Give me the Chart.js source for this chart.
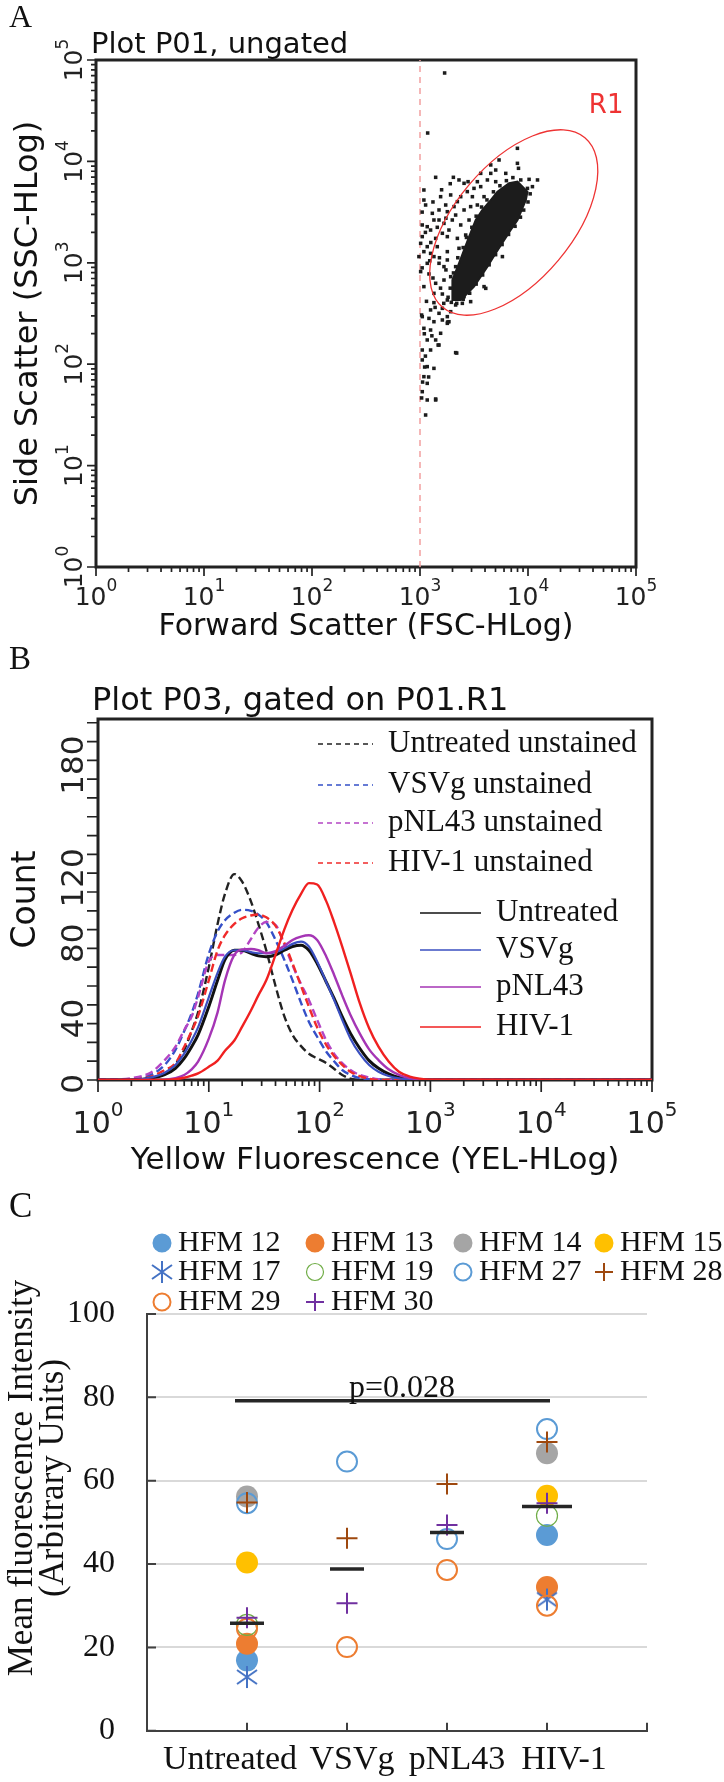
<!DOCTYPE html>
<html lang="en">
<head>
<meta charset="utf-8">
<title>Flow cytometry panels A-C</title>
<script src="https://cdn.jsdelivr.net/npm/chart.js@4.4.1/dist/chart.umd.min.js"></script>
<style>
  html, body { margin: 0; padding: 0; background: #fff; }
  #page { position: relative; width: 724px; height: 1782px; overflow: hidden; background: #fff; }
  #page canvas { position: absolute; left: 0; }
  .txt { position: absolute; white-space: nowrap; line-height: 1; color: #111; }
  .serif { font-family: "Liberation Serif", "Times New Roman", serif; }
  .sans { font-family: "DejaVu Sans", Verdana, sans-serif; }
  #cTitle { position: absolute; left: -184px; top: 1447px; width: 440px; height: 62px; line-height: 31px;
            font-size: 35px; text-align: center; transform: rotate(-90deg); color: #111; white-space: nowrap; }
</style>
</head>
<body>
<div id="page">
  <canvas id="chartA" width="724" height="650" style="top:0"></canvas>
  <canvas id="chartB" width="724" height="510" style="top:680px"></canvas>
  <canvas id="chartC" width="724" height="602" style="top:1180px"></canvas>

  <div class="txt serif" style="left:9px;top:0;font-size:32px">A</div>
  <div class="txt sans" style="left:91px;top:29px;font-size:29px">Plot P01, ungated</div>
  <div class="txt serif" style="left:9px;top:642px;font-size:33px">B</div>
  <div class="txt sans" style="left:92px;top:683px;font-size:32px">Plot P03, gated on P01.R1</div>
  <div class="txt serif" style="left:9px;top:1188px;font-size:35px">C</div>
  <div id="cTitle" class="serif">Mean fluorescence Intensity<br>(Arbitrary Units)</div>
</div>

<script>
const SANS = '"DejaVu Sans", Verdana, sans-serif';
const SERIF = '"Liberation Serif", "Times New Roman", serif';

// ---------------- panel A : FSC / SSC dot plot (log10 units) ----------------
const coreFscLog = [3.300, 3.300, 3.361, 3.454, 3.516, 3.578, 3.655, 3.717, 3.825, 3.903, 3.995,
                    3.980, 3.903, 3.840, 3.701, 3.624, 3.562, 3.500, 3.439, 3.377, 3.300, 3.300];
const coreSscLog = [2.682, 2.830, 2.995, 3.257, 3.422, 3.521, 3.619, 3.701, 3.784, 3.800, 3.701,
                    3.619, 3.422, 3.323, 3.094, 2.962, 2.863, 2.764, 2.699, 2.633, 2.633, 2.682];

const dotFscLog = [3.902, 3.732, 3.655, 3.902, 3.794, 3.701, 3.912, 3.145, 3.309, 3.361, 3.445, 3.531,
  3.624, 3.701, 3.933, 4.010, 4.088, 3.036, 3.284, 3.346, 3.438, 3.500, 3.562, 3.036, 3.052, 3.176,
  3.253, 3.330, 3.408, 3.469, 3.531, 3.593, 3.129, 3.222, 3.299, 3.377, 3.454, 3.021, 3.098, 3.207,
  3.253, 3.346, 3.423, 3.006, 3.067, 3.160, 3.253, 3.361, 2.990, 3.098, 3.176, 3.253, 3.330, 3.006,
  3.083, 3.145, 3.222, 3.036, 3.129, 3.207, 3.253, 3.330, 3.392, 3.469, 3.129, 3.207, 3.284, 3.176,
  3.253, 3.083, 3.129, 3.207, 3.253, 3.036, 3.098, 3.191, 3.268, 3.067, 3.145, 3.021, 3.098, 3.176,
  3.330, 3.021, 3.067, 3.129, 3.036, 3.067, 3.021, 3.067, 3.145, 3.052, 3.609, 3.763, 3.593, 4.041,
  3.995, 3.228, 3.071, 3.015, 3.256, 3.340, 3.015, 3.168, 3.043, 3.080, 3.024, 3.145,
  3.176, 3.067, 3.145, 3.268, 3.021, 3.129, 3.222, 3.284, 3.067, 3.036, 3.408, 3.485, 3.238, 3.114,
  3.315, 3.191, 3.377, 3.562, 3.655, 3.346, 3.408, 3.098, 3.021,
  3.280, 3.310, 3.350, 3.400, 3.430, 3.480, 3.520, 3.570, 3.620, 3.680, 3.740, 3.800, 3.860,
  4.020, 4.000, 3.960, 3.930, 3.880, 3.820, 3.760, 3.700, 3.640, 3.580, 3.520, 3.460, 3.400, 3.340, 3.290,
  3.050, 3.100, 3.180, 3.240, 3.120, 3.190, 3.260, 3.060, 3.140, 3.220, 3.020, 3.090, 3.160, 3.240,
  3.020, 3.120, 3.200, 3.280, 3.040, 3.110, 3.050];
const dotSscLog = [4.129, 4.014, 3.965, 3.981, 3.882, 3.915, 3.932, 3.843, 3.843, 3.817, 3.800, 3.800,
  3.817, 3.800, 3.817, 3.823, 3.817, 3.718, 3.669, 3.603, 3.702, 3.734, 3.751, 3.619, 3.570, 3.521,
  3.504, 3.471, 3.521, 3.554, 3.570, 3.652, 3.422, 3.389, 3.422, 3.373, 3.422, 3.373, 3.323, 3.291,
  3.258, 3.241, 3.274, 3.192, 3.159, 3.159, 3.110, 3.143, 3.061, 3.093, 2.995, 3.028, 2.962, 2.913,
  2.890, 2.798, 2.830, 2.765, 2.699, 2.692, 2.633, 2.584, 2.600, 2.617, 2.607, 2.551, 2.518, 2.502,
  2.469, 2.452, 2.419, 2.436, 2.403, 2.354, 2.337, 2.305, 2.419, 2.239, 2.239, 2.140, 2.140, 2.189,
  2.114, 2.042, 1.976, 1.959, 1.877, 1.811, 1.729, 1.647, 1.647, 1.499, 2.748, 3.061, 2.765, 3.751,
  3.734, 4.872, 4.280, 2.485, 2.416, 2.110, 1.667, 2.189, 1.972, 1.874, 1.824, 1.657,
  3.422, 3.356, 3.241, 3.323, 3.258, 3.061, 2.962, 2.863, 2.995, 3.110, 3.784, 3.652, 3.570, 3.488,
  3.554, 3.652, 3.652, 3.882, 3.882, 2.715, 2.666, 2.535, 2.469,
  2.750, 2.900, 3.050, 3.150, 3.250, 3.350, 3.460, 3.550, 3.620, 3.700, 3.760, 3.810, 3.840,
  3.680, 3.600, 3.520, 3.450, 3.360, 3.280, 3.180, 3.080, 2.980, 2.880, 2.790, 2.700, 2.640, 2.600, 2.610,
  3.300, 3.200, 3.050, 2.930, 2.850, 2.750, 2.660, 2.620, 2.560, 2.600, 2.950, 3.020, 3.350, 3.440,
  3.500, 3.600, 3.720, 3.780, 2.300, 2.280, 2.080];

const thresholdFsc = 1000;
const gateR1 = { name: 'R1', fsc: 7380, ssc: 2497, major: 1.025, minor: 0.541, angle: 50,
                 labelFsc: 36600, labelSsc: 30000 };
const decadeExps = [0, 1, 2, 3, 4, 5];
const minorSteps = [2, 3, 4, 5, 6, 7, 8, 9];

// ---------------- panel B : yellow fluorescence histograms ----------------
const yelBins = [1, 2, 3, 4, 5, 6, 7, 8, 10, 12, 14, 17, 20, 24, 28, 33, 40, 48, 57, 68, 80, 95,
                 115, 135, 160, 190, 230, 280, 340, 420, 520, 650, 800, 1000, 100000];
const untreatedUnstained = [0, 0, 1.4, 3.5, 8.5, 16, 26, 36, 60, 83, 99, 109.5, 105.5, 95, 83, 69, 50, 34,
  24, 18, 14, 11.5, 9, 6, 2.7, 0.7, 0, 0, 0, 0, 0, 0, 0, 0, 0];
const vsvgUnstained = [0, 0.4, 2.7, 8, 16, 26, 35.5, 46, 67, 79, 85, 89, 90.5, 90, 88, 84, 74.5, 64,
  53, 41, 31, 23, 15, 10, 5.3, 2.7, 1, 0.3, 0, 0, 0, 0, 0, 0, 0];
const pnl43Unstained = [0, 1, 4, 10.6, 17.7, 26.6, 33.7, 44, 63, 66.5, 66.5, 66.5, 68, 75, 81, 84, 82.5, 72,
  61, 51, 42.6, 32, 21, 14, 9, 5.3, 2.7, 1.4, 0.4, 0, 0, 0, 0, 0, 0];
const hivUnstained = [0, 0.2, 1.8, 5.3, 9, 17.7, 26, 34, 53, 69, 77, 83, 86, 87.5, 88, 86.5, 82, 73,
  62, 50, 39, 28, 18.6, 12.8, 8, 4.4, 2.1, 0.7, 0, 0, 0, 0, 0, 0, 0];
const untreated = [0, 0, 0.9, 2.8, 6.2, 11.5, 17.7, 24, 39, 53, 64, 69, 69, 67.4, 66, 65.6, 66.5, 69,
  71, 71.7, 69, 62, 52, 43.5, 33.7, 24.8, 16.9, 10.3, 6.2, 3.2, 1.4, 0.7, 0.2, 0, 0];
const vsvg = [0, 0, 1.4, 3.9, 8, 14, 21, 28, 44, 57, 65.6, 69, 69, 68, 67.4, 67.4, 68, 70,
  72.4, 73.6, 71, 63, 52, 42.6, 32, 22, 14, 8, 4.4, 2.1, 0.9, 0.3, 0, 0, 0];
const pnl43 = [0, 0, 0, 0.2, 1, 2.7, 5.7, 9.8, 22, 36, 53, 66.5, 69.5, 69.7, 69, 67.4, 68.6, 71.3,
  74.5, 76.3, 77, 74.5, 65.6, 56, 45, 34.6, 24.8, 16.3, 10.6, 5.7, 2.7, 1, 0.3, 0, 0];
const hiv1 = [0, 0, 0, 0, 0.4, 1.2, 2.3, 3.5, 7, 10.3, 15.6, 21, 28.4, 37, 45, 53, 66.5, 80,
  90.5, 99, 104.7, 104, 95, 84, 71, 57, 41, 27.5, 17.7, 9.8, 4.4, 1.8, 0.7, 0.2, 0];
const countTickLabels = [0, 40, 80, 120, 180];

// ---------------- panel C : MFI per donor ----------------
const groups = ['Untreated', 'VSVg', 'pNL43', 'HIV-1'];
const donors = ['HFM 12', 'HFM 13', 'HFM 14', 'HFM 15', 'HFM 17', 'HFM 19', 'HFM 27', 'HFM 28', 'HFM 29', 'HFM 30'];
const hfm12 = [16.9, null, null, 47.0];
const hfm13 = [20.9, null, null, 34.5];
const hfm14 = [56.2, null, null, 66.6];
const hfm15 = [40.4, null, null, 56.4];
const hfm17 = [12.9, null, null, 31.5];
const hfm19 = [25.4, null, null, 51.6];
const hfm27 = [54.6, 64.6, 46.0, 72.4];
const hfm28 = [54.8, 46.2, 59.2, 69.3];
const hfm29 = [24.5, 20.1, 38.6, 30.0];
const hfm30 = [27.1, 30.6, 49.4, 54.6];
const medians = [25.8, 38.8, 47.6, 53.8];
const pValue = 'p=0.028';
const bracketFrom = 0.88, bracketTo = 4.03, bracketLevel = 79.2;

// layout of the hand placed keys (canvas pixels)
const bKeyRows = [64, 105, 143, 183, 233, 270, 307, 347];
const cKeyCols = [162, 315, 463, 604];
const cKeyRows = [63, 92, 122];

// ------------------------------------------------------------------
function drawPow(ctx, exp, cx, base, size) {
  const big = size + 'px ' + SANS;
  const small = Math.round(size * 0.68) + 'px ' + SANS;
  ctx.font = big;
  const w1 = ctx.measureText('10').width;
  ctx.font = small;
  const w2 = ctx.measureText(String(exp)).width;
  const x0 = cx - (w1 + w2) / 2;
  ctx.textAlign = 'left';
  ctx.textBaseline = 'alphabetic';
  ctx.font = big;
  ctx.fillText('10', x0, base);
  ctx.font = small;
  ctx.fillText(String(exp), x0 + w1, base - size * 0.56);
}

// frame, log ticks and rotated tick labels of the cytometer plots
const flowAxes = {
  id: 'flowAxes',
  beforeDatasetsDraw(chart, args, o) {
    const { ctx, chartArea: a, scales: { x, y } } = chart;
    ctx.save();
    ctx.strokeStyle = o.color;
    ctx.fillStyle = o.color;
    ctx.lineWidth = 1.7;
    ctx.beginPath();
    decadeExps.forEach(e => {
      const steps = e < 5 ? [1].concat(minorSteps) : [1];
      steps.forEach(m => {
        const len = m === 1 ? o.major : o.minor;
        const px = x.getPixelForValue(m * Math.pow(10, e));
        ctx.moveTo(px, a.bottom);
        ctx.lineTo(px, a.bottom + len);
        if (o.logY) {
          const py = y.getPixelForValue(m * Math.pow(10, e));
          ctx.moveTo(a.left, py);
          ctx.lineTo(a.left - len, py);
        }
      });
    });
    if (!o.logY) {
      y.ticks.forEach(t => {
        const py = y.getPixelForValue(t.value);
        ctx.moveTo(a.left, py);
        ctx.lineTo(a.left - o.yTick, py);
      });
    }
    ctx.stroke();
    ctx.lineWidth = o.frame;
    ctx.strokeRect(a.left, a.top, a.right - a.left, a.bottom - a.top);

    decadeExps.forEach(e => drawPow(ctx, e, x.getPixelForValue(Math.pow(10, e)), a.bottom + o.xDrop, o.size));
    if (o.logY) {
      decadeExps.forEach(e => {
        ctx.save();
        ctx.translate(o.yLabelX, y.getPixelForValue(Math.pow(10, e)));
        ctx.rotate(-Math.PI / 2);
        drawPow(ctx, e, 0, o.size * 0.365, o.size);
        ctx.restore();
      });
    } else {
      countTickLabels.forEach(v => {
        ctx.save();
        ctx.translate(o.yLabelX, y.getPixelForValue(v));
        ctx.rotate(-Math.PI / 2);
        ctx.font = o.ySize + 'px ' + SANS;
        ctx.textAlign = 'right';
        ctx.textBaseline = 'alphabetic';
        ctx.fillText(String(v), o.yLabelLift, o.ySize * 0.365);
        ctx.restore();
      });
    }
    ctx.restore();
  }
};

// elliptical R1 gate
const gatePlugin = {
  id: 'gate',
  afterDatasetsDraw(chart, args, o) {
    const { ctx, scales: { x, y } } = chart;
    const cx = x.getPixelForValue(gateR1.fsc);
    const cy = y.getPixelForValue(gateR1.ssc);
    const ppd = x.getPixelForValue(10) - x.getPixelForValue(1);
    ctx.save();
    ctx.strokeStyle = o.color;
    ctx.lineWidth = 1.3;
    ctx.beginPath();
    ctx.ellipse(cx, cy, gateR1.major * ppd, gateR1.minor * ppd, -gateR1.angle * Math.PI / 180, 0, 2 * Math.PI);
    ctx.stroke();
    ctx.fillStyle = o.color;
    ctx.font = '26px ' + SANS;
    ctx.textAlign = 'left';
    ctx.textBaseline = 'alphabetic';
    ctx.fillText(gateR1.name, x.getPixelForValue(gateR1.labelFsc), y.getPixelForValue(gateR1.labelSsc));
    ctx.restore();
  }
};

// line key of panel B
const lineKey = {
  id: 'lineKey',
  afterDraw(chart, args, o) {
    const { ctx } = chart;
    ctx.save();
    ctx.font = o.size + 'px ' + SERIF;
    ctx.textAlign = 'left';
    ctx.textBaseline = 'middle';
    chart.data.datasets.forEach((ds, i) => {
      const x = i < 4 ? 318 : 420;
      const len = i < 4 ? 55 : 61;
      const y = bKeyRows[i];
      ctx.strokeStyle = ds.borderColor;
      ctx.lineWidth = 1.6;
      ctx.setLineDash(i < 4 ? [5, 4] : []);
      ctx.beginPath();
      ctx.moveTo(x, y);
      ctx.lineTo(x + len, y);
      ctx.stroke();
      ctx.setLineDash([]);
      ctx.fillStyle = '#111';
      ctx.fillText(ds.label, x + len + 15, y);
    });
    ctx.restore();
  }
};

function markPoint(ctx, style, radius, x, y) {
  if (Chart.helpers && Chart.helpers.drawPoint) {
    Chart.helpers.drawPoint(ctx, { pointStyle: style, rotation: 0, radius: radius, borderWidth: ctx.lineWidth }, x, y);
    return;
  }
  if (typeof style !== 'string') { ctx.drawImage(style, x - style.width / 2, y - style.height / 2); return; }
  ctx.beginPath();
  if (style === 'cross') {
    ctx.moveTo(x - radius, y); ctx.lineTo(x + radius, y);
    ctx.moveTo(x, y - radius); ctx.lineTo(x, y + radius);
    ctx.stroke();
  } else {
    ctx.arc(x, y, radius, 0, 2 * Math.PI);
    ctx.fill();
    if (ctx.lineWidth > 0) ctx.stroke();
  }
}

// marker key, inward ticks, group labels and p value of panel C
const cExtras = {
  id: 'cExtras',
  afterDraw(chart, args, o) {
    const { ctx, chartArea: a, scales: { x, y } } = chart;
    ctx.save();
    ctx.strokeStyle = '#404040';
    ctx.lineWidth = 2;
    ctx.beginPath();
    y.ticks.forEach(t => {
      const py = y.getPixelForValue(t.value);
      ctx.moveTo(a.left, py); ctx.lineTo(a.left + 9, py);
    });
    x.ticks.forEach(t => {
      if (t.value === 0) return;
      const px = x.getPixelForValue(t.value);
      ctx.moveTo(px, a.bottom); ctx.lineTo(px, a.bottom - 8);
    });
    ctx.stroke();

    ctx.fillStyle = '#111';
    ctx.font = '34px ' + SERIF;
    ctx.textAlign = 'center';
    ctx.textBaseline = 'alphabetic';
    groups.forEach((g, i) => ctx.fillText(g, x.getPixelForValue(i + 1) + o.nudge[i], a.bottom + o.drop));
    ctx.font = '32px ' + SERIF;
    ctx.fillText(pValue, x.getPixelForValue(o.pX), y.getPixelForValue(o.pY));

    ctx.font = '30px ' + SERIF;
    ctx.textAlign = 'left';
    ctx.textBaseline = 'middle';
    donors.forEach((name, i) => {
      const ds = chart.data.datasets[i];
      const kx = cKeyCols[i % 4];
      const ky = cKeyRows[Math.floor(i / 4)];
      ctx.fillStyle = ds.backgroundColor;
      ctx.strokeStyle = ds.borderColor;
      ctx.lineWidth = ds.borderWidth;
      markPoint(ctx, ds.pointStyle, ds.pointStyle === 'cross' ? 9 : 8.5, kx, ky);
      ctx.fillStyle = '#111';
      ctx.fillText(name, kx + 16, ky);
    });
    ctx.restore();
  }
};

function asteriskMark(color) {
  const c = document.createElement('canvas');
  c.width = 24; c.height = 24;
  const g = c.getContext('2d');
  g.strokeStyle = color;
  g.lineWidth = 2;
  g.beginPath();
  g.moveTo(2, 5); g.lineTo(22, 19);
  g.moveTo(2, 19); g.lineTo(22, 5);
  g.moveTo(12, 1); g.lineTo(12, 23);
  g.stroke();
  return c;
}

Chart.defaults.font.family = SANS;
Chart.defaults.color = '#111';

// ------------------------------ chart A ------------------------------
new Chart(document.getElementById('chartA'), {
  type: 'scatter',
  data: {
    datasets: [
      {
        type: 'line', label: 'core',
        data: coreFscLog.map((v, i) => ({ x: Math.pow(10, v), y: Math.pow(10, coreSscLog[i]) })),
        borderColor: '#1c1c1c', backgroundColor: '#1c1c1c', borderWidth: 2,
        pointRadius: 0, fill: 'shape', tension: 0
      },
      {
        label: 'events',
        data: dotFscLog.map((v, i) => ({ x: Math.pow(10, v), y: Math.pow(10, dotSscLog[i]) })),
        pointStyle: 'rect', pointRadius: 2.5, backgroundColor: '#1c1c1c', borderWidth: 0
      },
      {
        type: 'line', label: 'threshold',
        data: [{ x: thresholdFsc, y: 1 }, { x: thresholdFsc, y: 100000 }],
        borderColor: '#f2a0a0', borderWidth: 1.5, borderDash: [6, 5], pointRadius: 0, fill: false
      }
    ]
  },
  options: {
    responsive: false, animation: false, devicePixelRatio: 1, events: [],
    layout: { padding: { top: 60, right: 88, left: 0, bottom: 0 } },
    plugins: {
      legend: { display: false }, tooltip: { enabled: false },
      flowAxes: { color: '#222', major: 9, minor: 5, frame: 3, size: 25, xDrop: 38, logY: true, yLabelX: 73 },
      gate: { color: '#ee3333' }
    },
    scales: {
      x: {
        type: 'logarithmic', min: 1, max: 100000,
        ticks: { display: false }, grid: { display: false, drawTicks: false }, border: { display: false },
        title: { display: true, text: 'Forward Scatter (FSC-HLog)', font: { family: SANS, size: 30 }, color: '#111',
                 padding: { top: 0, bottom: 5 } },
        afterFit: s => { s.height = 83; }
      },
      y: {
        type: 'logarithmic', min: 1, max: 100000,
        ticks: { display: false }, grid: { display: false, drawTicks: false }, border: { display: false },
        title: { display: true, text: 'Side Scatter (SSC-HLog)', font: { family: SANS, size: 32 }, color: '#111',
                 padding: { top: 9, bottom: 0 } },
        afterFit: s => { s.width = 96; }
      }
    }
  },
  plugins: [flowAxes, gatePlugin]
});

// ------------------------------ chart B ------------------------------
const bSeries = [
  { label: 'Untreated unstained', data: untreatedUnstained, color: '#222222', dash: [8, 4], width: 2.4, order: 7 },
  { label: 'VSVg unstained', data: vsvgUnstained, color: '#3550c8', dash: [8, 4], width: 2.4, order: 6 },
  { label: 'pNL43 unstained', data: pnl43Unstained, color: '#b445c4', dash: [8, 4], width: 2.4, order: 5 },
  { label: 'HIV-1 unstained', data: hivUnstained, color: '#f02a2a', dash: [8, 4], width: 2.4, order: 4 },
  { label: 'Untreated', data: untreated, color: '#111111', dash: [], width: 3, order: 3 },
  { label: 'VSVg', data: vsvg, color: '#3a4fc0', dash: [], width: 2.2, order: 2 },
  { label: 'pNL43', data: pnl43, color: '#a535b5', dash: [], width: 2.4, order: 1 },
  { label: 'HIV-1', data: hiv1, color: '#f02020', dash: [], width: 2.4, order: 0 }
];

new Chart(document.getElementById('chartB'), {
  type: 'line',
  data: {
    datasets: bSeries.map(s => ({
      label: s.label,
      data: yelBins.map((v, i) => ({ x: v, y: s.data[i] })),
      borderColor: s.color, backgroundColor: s.color, borderWidth: s.width, borderDash: s.dash,
      pointRadius: 0, cubicInterpolationMode: 'monotone', fill: false, order: s.order
    }))
  },
  options: {
    responsive: false, animation: false, devicePixelRatio: 1, events: [],
    layout: { padding: { top: 39, right: 72, left: 0, bottom: 0 } },
    plugins: {
      legend: { display: false }, tooltip: { enabled: false },
      flowAxes: { color: '#222', major: 12, minor: 6, frame: 3, size: 30, xDrop: 53, logY: false,
                  yTick: 11, yLabelX: 71.5, ySize: 31, yLabelLift: 6 },
      lineKey: { size: 31 }
    },
    scales: {
      x: {
        type: 'logarithmic', min: 1, max: 100000,
        ticks: { display: false }, grid: { display: false, drawTicks: false }, border: { display: false },
        title: { display: true, text: 'Yellow Fluorescence (YEL-HLog)', font: { family: SANS, size: 31 }, color: '#111',
                 padding: { top: 0, bottom: 10 } },
        afterFit: s => { s.height = 110; }
      },
      y: {
        type: 'linear', min: 0, max: 192,
        ticks: { display: false, stepSize: 10, includeBounds: false },
        grid: { display: false, drawTicks: false }, border: { display: false },
        title: { display: true, text: 'Count', font: { family: SANS, size: 33 }, color: '#111',
                 padding: { top: 7, bottom: 0 } },
        afterFit: s => { s.width = 98; }
      }
    }
  },
  plugins: [flowAxes, lineKey]
});

// ------------------------------ chart C ------------------------------
const donorValues = [hfm12, hfm13, hfm14, hfm15, hfm17, hfm19, hfm27, hfm28, hfm29, hfm30];
const donorLook = [
  { style: 'circle', fill: '#5b9bd5', line: '#5b9bd5', w: 0, r: 11 },
  { style: 'circle', fill: '#ed7d31', line: '#ed7d31', w: 0, r: 11 },
  { style: 'circle', fill: '#a5a5a5', line: '#a5a5a5', w: 0, r: 11 },
  { style: 'circle', fill: '#ffc000', line: '#ffc000', w: 0, r: 11 },
  { style: asteriskMark('#4472c4'), fill: '#4472c4', line: '#4472c4', w: 2, r: 11 },
  { style: 'circle', fill: 'rgba(255,255,255,0)', line: '#70ad47', w: 1.2, r: 10.5 },
  { style: 'circle', fill: 'rgba(255,255,255,0)', line: '#5b9bd5', w: 2, r: 10 },
  { style: 'cross', fill: '#9e480e', line: '#9e480e', w: 2, r: 10.5 },
  { style: 'circle', fill: 'rgba(255,255,255,0)', line: '#ed7d31', w: 2, r: 10 },
  { style: 'cross', fill: '#7030a0', line: '#7030a0', w: 2, r: 10.5 }
];

const cDatasets = donors.map((name, k) => ({
  label: name,
  data: donorValues[k].map((v, i) => (v === null ? null : { x: i + 1, y: v })).filter(p => p !== null),
  pointStyle: donorLook[k].style,
  backgroundColor: donorLook[k].fill,
  borderColor: donorLook[k].line,
  borderWidth: donorLook[k].w,
  pointRadius: donorLook[k].r,
  order: 10 - k
}));
cDatasets.push({
  label: 'median',
  data: medians.map((m, i) => ({ x: i + 1, y: m })),
  pointStyle: 'line', pointRadius: [17, 17, 17, 25],
  borderColor: '#262626', backgroundColor: '#262626', borderWidth: 3.5, order: -1
});
cDatasets.push({
  type: 'line', label: 'bracket',
  data: [{ x: bracketFrom, y: bracketLevel }, { x: bracketTo, y: bracketLevel }],
  borderColor: '#262626', borderWidth: 3.5, pointRadius: 0, fill: false, order: -1
});

new Chart(document.getElementById('chartC'), {
  type: 'scatter',
  data: { datasets: cDatasets },
  options: {
    responsive: false, animation: false, devicePixelRatio: 1, events: [],
    layout: { padding: { top: 134, right: 77, left: 0, bottom: 0 } },
    plugins: {
      legend: { display: false }, tooltip: { enabled: false },
      cExtras: { nudge: [-17, 5, 10, 17], drop: 38.5, pX: 2.55, pY: 80.2 }
    },
    scales: {
      x: {
        type: 'linear', min: 0, max: 5,
        ticks: { display: false, stepSize: 1 },
        grid: { display: false, drawTicks: false },
        border: { display: true, color: '#404040', width: 2 },
        afterFit: s => { s.height = 50; }
      },
      y: {
        type: 'linear', min: 0, max: 100,
        ticks: { stepSize: 20, padding: 32, color: '#111', font: { family: SERIF, size: 32 } },
        grid: { drawTicks: false, lineWidth: 2, color: c => (c.tick && c.tick.value === 0 ? 'rgba(0,0,0,0)' : '#d9d9d9') },
        border: { display: true, color: '#404040', width: 2 },
        afterFit: s => { s.width = 147; }
      }
    }
  },
  plugins: [cExtras]
});
</script>
</body>
</html>
